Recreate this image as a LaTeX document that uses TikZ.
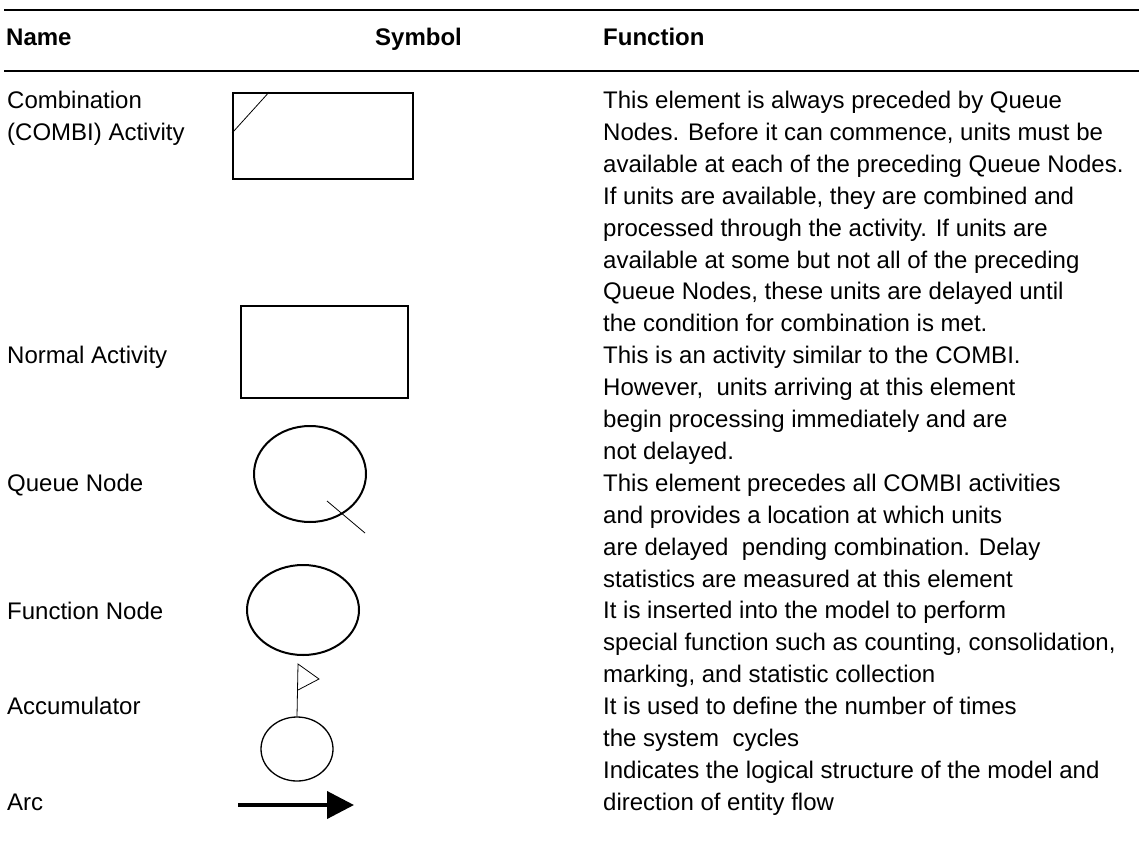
\documentclass[tikz,border=0pt]{standalone}
\usepackage{fontspec}
\setmainfont{Liberation Sans}
\usetikzlibrary{arrows.meta,shapes.geometric,calc}
\begin{document}
\begin{tikzpicture}[x=1pt,y=-1pt,
  txt/.style={anchor=base west,inner sep=0pt,font=\fontsize{24}{29}\selectfont},
  hdr/.style={txt,font=\fontsize{24}{29}\selectfont\bfseries},
  rule/.style={line width=2.6pt},
  actbox/.style={draw,rectangle,line width=1.8pt,inner sep=0pt},
  nodeell/.style={draw,ellipse,line width=2pt,inner sep=0pt},
  thinline/.style={line width=0.8pt}]
\useasboundingbox (0,0) rectangle (1139,848);
% rules
\coordinate (r1a) at (4,10); \coordinate (r1b) at (1139,10);
\coordinate (r2a) at (4,71); \coordinate (r2b) at (1139,71);
\draw[rule] (r1a) -- (r1b);
\draw[rule] (r2a) -- (r2b);
% header
\node[hdr] (hname) at (6,46) {Name};
\node[hdr] (hsym) at (375,46) {Symbol};
\node[hdr] (hfun) at (603,46) {Function};
% names
\node[txt] (n1) at (7,108.5) {Combination};
\node[txt] (n2) at (7,140.4) {(COMBI) Activity};
\node[txt] (n3) at (7,363.7) {Normal Activity};
\node[txt] (n4) at (7,491.3) {Queue Node};
\node[txt] (n5) at (7,619.1) {Function Node};
\node[txt] (n6) at (7,714.8) {Accumulator};
\node[txt] (n7) at (7,810.5) {Arc};
% function text
\node[txt] (f1) at (603,108.5) {This element is always preceded by Queue};
\node[txt] (f2) at (603,140.4) {Nodes. Before it can commence, units must be};
\node[txt] (f3) at (603,172.3) {available at each of the preceding Queue Nodes.};
\node[txt] (f4) at (603,204.2) {If units are available, they are combined and};
\node[txt] (f5) at (603,236.1) {processed through the activity. If units are};
\node[txt] (f6) at (603,268.0) {available at some but not all of the preceding};
\node[txt] (f7) at (603,299.9) {Queue Nodes, these units are delayed until};
\node[txt] (f8) at (603,331.8) {the condition for combination is met.};
\node[txt] (f9) at (603,363.7) {This is an activity similar to the COMBI.};
\node[txt] (f10) at (603,395.6) {However,\ \ units arriving at this element};
\node[txt] (f11) at (603,427.5) {begin processing immediately and are};
\node[txt] (f12) at (603,459.4) {not delayed.};
\node[txt] (f13) at (603,491.3) {This element precedes all COMBI activities};
\node[txt] (f14) at (603,523.2) {and provides a location at which units};
\node[txt] (f15) at (603,555.1) {are delayed\ \ pending combination. Delay};
\node[txt] (f16) at (603,587.0) {statistics are measured at this element};
\node[txt] (f17) at (603,618.9) {It is inserted into the model to perform};
\node[txt] (f18) at (603,650.8) {special function such as counting, consolidation,};
\node[txt] (f19) at (603,682.7) {marking, and statistic collection};
\node[txt] (f20) at (603,714.6) {It is used to define the number of times};
\node[txt] (f21) at (603,746.5) {the system\ \ cycles};
\node[txt] (f22) at (603,778.4) {Indicates the logical structure of the model and};
\node[txt] (f23) at (603,810.3) {direction of entity flow};
% symbols
\node[actbox,minimum width=180pt,minimum height=86pt] (combi) at (323,136) {};
\draw[thinline] ($(combi.north west)+(37,0)$) -- ($(combi.west)+(0,-3)$);
\node[actbox,minimum width=167pt,minimum height=92pt] (normal) at (324.5,352) {};
\node[nodeell,minimum width=112pt,minimum height=96pt] (queue) at (310,474) {};
\coordinate (qtail) at (365,533);
\draw[thinline] ($(queue.center)+(17,27)$) -- (qtail);
\node[nodeell,minimum width=112pt,minimum height=90pt] (func) at (303,610) {};
\node[nodeell,line width=1.3pt,minimum width=72pt,minimum height=64pt] (acc) at (297,749) {};
\coordinate (flagtop) at (298,664);
\coordinate (flagtip) at (319,679);
\coordinate (flagbot) at (298,690);
\draw[thinline] (acc.north) -- (flagtop) -- (flagtip) -- (flagbot);
\coordinate (arcstart) at (238,805);
\coordinate (arcend) at (354,805);
\draw[line width=4pt,-{Triangle[length=27pt,width=27pt]}] (arcstart) -- (arcend);
\end{tikzpicture}
\end{document}
